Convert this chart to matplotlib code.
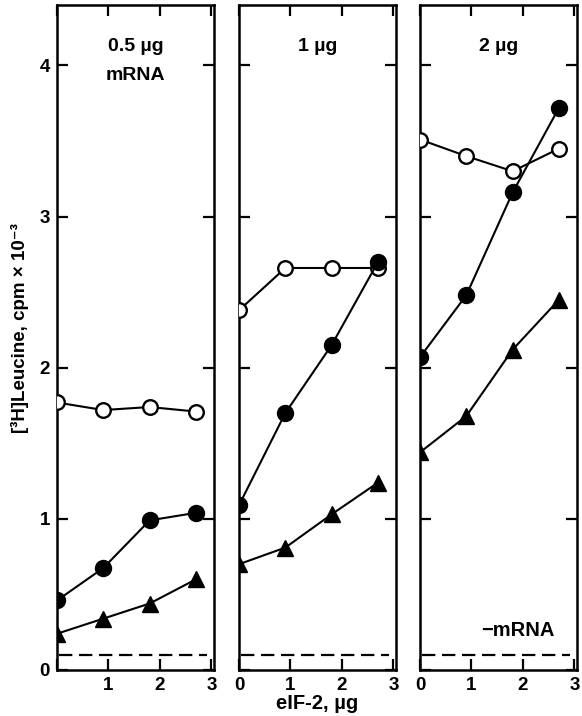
import matplotlib
matplotlib.use("Agg")
from matplotlib import pyplot as plt

plt.rcParams["font.family"] = ["Liberation Sans", "DejaVu Sans"]
plt.rcParams["font.weight"] = "bold"

# eIF-2 added (ug)
eif2 = [0, 0.9, 1.8, 2.7]

panel_titles = ["0.5 \u00b5g", "1 \u00b5g", "2 \u00b5g"]

# [3H]Leucine incorporation, cpm x 10^-3, one list per panel
open_circles = [
    [1.77, 1.72, 1.74, 1.71],
    [2.38, 2.66, 2.66, 2.66],
    [3.51, 3.40, 3.30, 3.45],
]
filled_circles = [
    [0.46, 0.675, 0.99, 1.04],
    [1.09, 1.70, 2.15, 2.70],
    [2.07, 2.48, 3.16, 3.72],
]
triangles = [
    [0.24, 0.34, 0.44, 0.60],
    [0.70, 0.81, 1.03, 1.24],
    [1.44, 1.68, 2.12, 2.45],
]
minus_mrna = 0.1  # background without mRNA (dashed line)
dash_span = [0.04, 2.92]

y_ticks = [0, 1, 2, 3, 4]
x_ticks = [0, 1, 2, 3]

fig = plt.figure(figsize=(5.82, 7.16), dpi=100)
lefts = [57 / 582, 239 / 582, 420 / 582]
width = 157 / 582
bottom = 46 / 716
height = 665 / 716

lw = 1.5
for i in range(3):
    ax = fig.add_axes([lefts[i], bottom, width, height])
    ax.plot(eif2, open_circles[i], "-o", color="black", mfc="white",
            mec="black", ms=10.5, mew=1.7, lw=lw, zorder=3)
    ax.plot(eif2, filled_circles[i], "-o", color="black", ms=11.5,
            lw=lw, zorder=4)
    ax.plot(eif2, triangles[i], "-^", color="black", ms=12, lw=lw, zorder=3)
    ax.plot(dash_span, [minus_mrna, minus_mrna], color="black", lw=1.6,
            dashes=(6, 3))

    ax.set_xlim(0, 3.05)
    ax.set_ylim(0, 4.4)
    ax.set_yticks(y_ticks)
    ax.set_xticks(x_ticks)
    ax.tick_params(direction="in", top=True, right=True, length=8, width=1.6,
                   labelsize=13.5, pad=5)
    for s in ax.spines.values():
        s.set_linewidth(1.8)
    if i == 0:
        ax.set_xticklabels(["", "1", "2", "3"])
        ax.set_yticklabels([str(t) for t in y_ticks])
    else:
        ax.set_xticklabels([str(t) for t in x_ticks])
        ax.set_yticklabels([])
    for lab in ax.get_xticklabels() + ax.get_yticklabels():
        lab.set_fontweight("bold")
    ax.text(0.5, 0.95, panel_titles[i], transform=ax.transAxes,
            ha="center", va="top", fontsize=14, fontweight="bold")
    if i == 0:
        ax.text(0.5, 0.907, "mRNA", transform=ax.transAxes,
                ha="center", va="top", fontsize=14, fontweight="bold")
    if i == 1:
        ax.set_xlabel("eIF-2, \u00b5g", fontsize=14.5, fontweight="bold",
                      labelpad=0)
    if i == 2:
        ax.text(0.62, 0.06, "\u2212mRNA", transform=ax.transAxes,
                ha="center", va="center", fontsize=14.5, fontweight="bold")

fig.text(20 / 582, 1 - 328 / 716, "[\u00b3H]Leucine, cpm \u00d7 10\u207b\u00b3",
         rotation=90, ha="center", va="center", fontsize=13.5,
         fontweight="bold")

fig.savefig("out.png", dpi=100)
